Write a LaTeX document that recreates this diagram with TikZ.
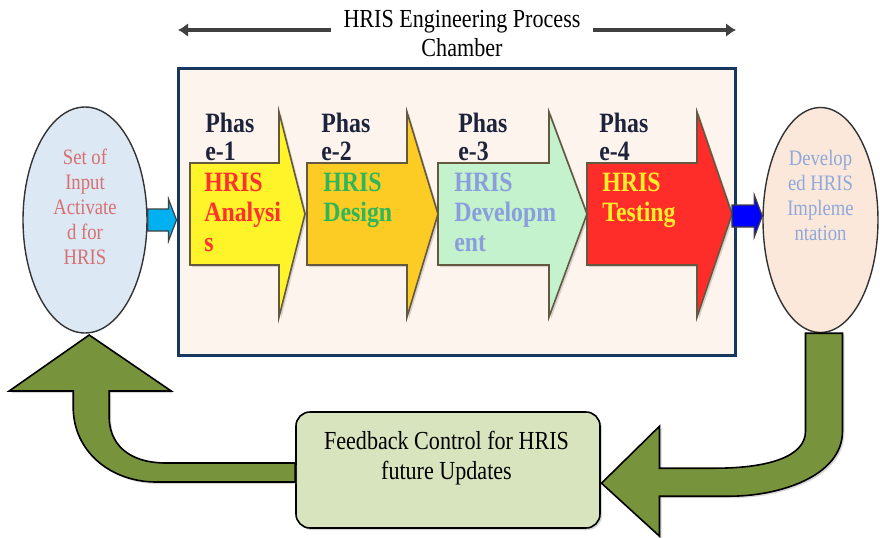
\documentclass[tikz,border=0pt]{standalone}
\usepackage{fontspec}
\setmainfont{Liberation Serif}[FakeStretch=0.85]
\usetikzlibrary{shapes.geometric,arrows.meta,calc,shadows}

\definecolor{chamberline}{RGB}{23,55,94}
\definecolor{chamberfill}{RGB}{253,244,238}
\definecolor{inputfill}{RGB}{221,232,245}
\definecolor{inputtext}{RGB}{214,112,112}
\definecolor{implfill}{RGB}{251,232,218}
\definecolor{impltext}{RGB}{142,169,219}
\definecolor{ph1}{RGB}{255,243,42}
\definecolor{ph2}{RGB}{252,203,36}
\definecolor{ph3}{RGB}{195,242,204}
\definecolor{ph4}{RGB}{255,45,42}
\definecolor{ph1text}{RGB}{255,48,48}
\definecolor{ph2text}{RGB}{44,184,90}
\definecolor{ph3text}{RGB}{138,158,221}
\definecolor{ph4text}{RGB}{255,240,42}
\definecolor{phaseline}{RGB}{100,88,65}
\definecolor{labelnavy}{RGB}{30,35,60}
\definecolor{conncyan}{RGB}{0,176,240}
\definecolor{connblue}{RGB}{0,0,255}
\definecolor{loopgreen}{RGB}{119,147,60}
\definecolor{feedfill}{RGB}{215,228,189}

\tikzset{
  chamberbox/.style={draw=chamberline, line width=1.5pt, fill=chamberfill,
    minimum width=278.5pt, minimum height=143.5pt, inner sep=0pt},
  oval/.style={ellipse, draw=black!80, line width=0.7pt, inner sep=0pt},
  ovaltxt/.style={inner sep=0pt, align=center, font=\fontsize{11}{12.5}\selectfont},
  phasebody/.style={draw=phaseline, line width=0.8pt,
    drop shadow={shadow xshift=1pt, shadow yshift=-1pt, opacity=0.3}},
  phaselab/.style={anchor=north west, inner sep=0pt, align=left, text=labelnavy,
    font=\fontsize{14}{14}\selectfont\bfseries},
  phasetxt/.style={anchor=north west, inner sep=0pt, align=left,
    font=\fontsize{14}{15}\selectfont\bfseries},
  blockline/.style={draw=black!75, line width=0.6pt},
  looparrow/.style={fill=loopgreen, draw=black, line width=0.8pt,
    drop shadow={shadow xshift=1pt, shadow yshift=-1pt, opacity=0.3}},
  toparrow/.style={draw=black!75, line width=1.8pt, -{Latex[length=5pt,width=7pt]}}
}

\newcommand{\blockconn}[3]{%
  \filldraw[blockline, fill=#3] ($(#1)+(0,-11)$) -- ($(#2)+(-8,-11)$) -- ($(#2)+(-8,-21)$)
    -- (#2) -- ($(#2)+(-8,21)$) -- ($(#2)+(-8,11)$) -- ($(#1)+(0,11)$) -- cycle;}

\begin{document}
\begin{tikzpicture}[x=0.5pt, y=-0.5pt]
  \useasboundingbox (0,0) rectangle (880,537);

  \node[font=\fontsize{13}{14.5}\selectfont, align=center, anchor=north, inner xsep=6pt, inner ysep=0pt]
    (title) at (462,10) {HRIS Engineering Process\\Chamber};
  \coordinate (chl) at (178,30);
  \coordinate (chr) at (736,30);
  \draw[toparrow] (title.west |- chl) -- (chl);
  \draw[toparrow] (title.east |- chr) -- (chr);

  \node[chamberbox] (chamber) at (456.5,211.5) {};

  \foreach \i/\xl/\xr/\xt in {1/190/279/305, 2/307/407/438, 3/438/549/587, 4/587/697/732}
    \filldraw[phasebody, fill=ph\i] (\xl,163) -- (\xr,163) -- (\xr,112) -- (\xt,214)
      -- (\xr,317) -- (\xr,265) -- (\xl,265) -- cycle;

  \node[phaselab] (lab1) at (205,113) {Phas\\e-1};
  \node[phaselab] (lab2) at (321,113) {Phas\\e-2};
  \node[phaselab] (lab3) at (458,113) {Phas\\e-3};
  \node[phaselab] (lab4) at (599,113) {Phas\\e-4};
  \node[phasetxt, text=ph1text] (analysis) at (204,173) {HRIS\\Analysi\\s};
  \node[phasetxt, text=ph2text] (design) at (323,173) {HRIS\\Design};
  \node[phasetxt, text=ph3text] (develop) at (454,173) {HRIS\\Developm\\ent};
  \node[phasetxt, text=ph4text] (testing) at (602,173) {HRIS\\Testing};

  \node[oval, fill=inputfill, minimum width=62pt, minimum height=113pt] (input) at (85,220) {};
  \node[ovaltxt, text=inputtext] (inputtxt) at (85,207) {Set of\\Input\\Activate\\d for\\HRIS};
  \node[oval, fill=implfill, minimum width=57.5pt, minimum height=112.5pt] (impl) at (820.5,220) {};
  \node[ovaltxt, text=impltext] (impltxt) at (820.5,195) {Develop\\ed HRIS\\Impleme\\ntation};

  \node[draw=black, line width=0.8pt, fill=feedfill, rounded corners=7pt, minimum width=152pt,
    minimum height=58pt, drop shadow={shadow xshift=1pt, shadow yshift=-1pt, opacity=0.3}]
    (feedback) at (448,470) {};
  \node[font=\fontsize{13}{15}\selectfont, align=center, anchor=north, inner sep=0pt]
    (feedtxt) at (446.5,431) {Feedback Control for HRIS\\future Updates};

  \coordinate (cyanend) at (chamber.west |- input.east);
  \coordinate (tip4) at (732,216);
  \coordinate (blueend) at (impl.west |- tip4);
  \blockconn{input.east}{cyanend}{conncyan}
  \blockconn{tip4}{blueend}{connblue}

  \filldraw[looparrow] ($(impl.south)+(-15,0)$) -- ++(37,0) -- ++(0,98)
    .. controls +(0,45) and +(50,0) .. ++(-113,65) -- ++(-70,0) -- ++(0,40)
    -- ++(-58,-53) -- ++(58,-57) -- ++(0,42) -- ++(55,0)
    .. controls +(55,0) and +(0,25) .. ++(91,-37) -- cycle;
  \filldraw[looparrow] ($(feedback.west)+(0,-7)$) -- ++(-129,0)
    .. controls +(-40,0) and +(0,25) .. ++(-57,-46) -- ++(0,-26) -- ++(62,0)
    -- ++(-82,-56) -- ++(-80,56) -- ++(64,0) -- ++(0,16)
    .. controls +(0,45) and +(-45,0) .. ++(83,75) -- ++(139,0) -- cycle;
\end{tikzpicture}
\end{document}
